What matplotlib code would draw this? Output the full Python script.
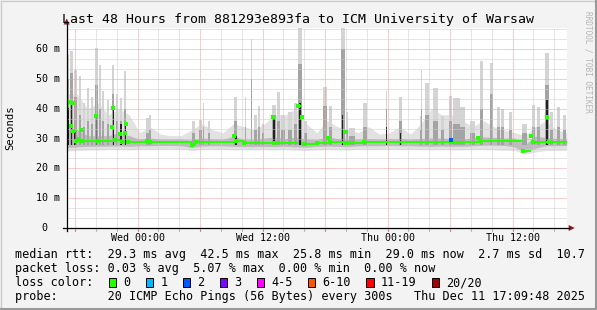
import matplotlib
matplotlib.use('Agg')
import matplotlib.pyplot as plt
from matplotlib.patches import Rectangle, Polygon

plt.rcParams['font.family'] = 'DejaVu Sans Mono'

W, H, DPI = 597, 310, 100

title = 'Last 48 Hours from 881293e893fa to ICM University of Warsaw'

# x axis is hours since window start (Tue ~17:12)
tick_hours = [6.8, 18.8, 30.8, 42.8]
tick_labels = ['Wed 00:00', 'Wed 12:00', 'Thu 00:00', 'Thu 12:00']
y_ticks = [10, 20, 30, 40, 50, 60]
y_labels = ['10 m', '20 m', '30 m', '40 m', '50 m', '60 m']

# hourly smoke envelope (ms)
hours = list(range(49))
smoke_lo = [25.8, 26.0, 26.2, 26.2, 26.3, 26.3, 26.2, 26.4, 26.4, 26.5, 26.5, 26.4, 26.0,
            26.3, 26.4, 26.4, 26.2, 26.3, 26.2, 26.3, 26.2, 26.3, 26.1, 26.0, 26.2, 26.3,
            26.2, 26.2, 26.4, 26.4, 26.4, 26.5, 26.4, 26.4, 26.3, 26.2, 26.3, 26.2, 26.2,
            26.3, 26.3, 26.2, 26.1, 26.0, 24.8, 25.5, 26.0, 26.0, 26.1]
smoke_hi = [45, 45, 40, 42, 38, 40, 38, 32, 34, 31.5, 31, 31, 33, 35, 33, 32, 35, 34, 33,
            35, 38, 38, 40, 35, 32, 36, 34, 33, 32, 34, 31.5, 32, 34, 31.5, 35, 40, 38, 38,
            36, 34, 36, 34, 33, 32, 31, 34, 36, 33, 32]
dark_lo = [27.0, 27.2, 27.4, 27.4, 27.5, 27.5, 27.4, 27.6, 27.6, 27.7, 27.7, 27.6, 27.0,
           27.5, 27.6, 27.6, 27.4, 27.3, 27.3, 27.4, 27.3, 27.4, 27.2, 27.1, 27.4, 27.5,
           27.4, 27.3, 27.6, 27.6, 27.6, 27.7, 27.6, 27.6, 27.5, 27.4, 27.5, 27.4, 27.4,
           27.6, 27.8, 27.8, 27.7, 27.2, 25.2, 26.8, 27.6, 27.6, 27.7]
dark_hi = [34, 33, 31, 31, 31, 32, 31, 29.8, 30.2, 29.8, 29.8, 29.8, 29.5, 30.2, 29.9,
           29.8, 30.8, 29.8, 29.6, 30.2, 30.5, 30.0, 30.5, 29.8, 29.6, 30.6, 30.0, 29.8,
           29.8, 30.0, 29.8, 29.9, 30.0, 29.8, 30.0, 30.2, 30.2, 30.0, 29.8, 30.2, 30.6,
           30.4, 30.2, 30.2, 28.0, 30.8, 30.4, 30.0, 29.8]

# single spikes: centre (h), width (h), light top, grey top, black top (ms)
spike_t = [0.12, 0.46, 0.80, 1.28, 1.66, 2.05, 2.43, 2.86, 3.20, 3.48, 3.96, 4.49, 4.83,
           5.21, 5.64, 7.71, 8.00, 12.15, 12.80, 13.13, 13.66, 16.25, 17.21, 17.74, 18.08,
           18.46, 18.89, 19.90, 20.29, 20.77, 21.48, 21.92, 22.40, 22.88, 24.84, 25.28,
           26.48, 26.87, 27.40, 28.68, 30.70, 32.04, 34.00, 34.08, 34.60, 35.36, 36.03,
           36.84, 37.42, 38.00, 38.96, 39.82, 40.78, 41.45, 41.88, 42.65, 43.95, 44.81,
           45.29, 46.10, 46.54, 47.21, 47.83]
spike_w = [0.29, 0.29, 0.29, 0.19, 0.19, 0.19, 0.19, 0.29, 0.19, 0.19, 0.19, 0.19, 0.19,
           0.19, 0.19, 0.29, 0.19, 0.29, 0.29, 0.10, 0.19, 0.29, 0.10, 0.14, 0.29, 0.19,
           0.19, 0.29, 0.29, 0.38, 0.38, 0.29, 0.38, 0.29, 0.38, 0.29, 0.38, 0.19, 0.58,
           0.38, 0.19, 0.29, 0.19, 0.10, 0.38, 0.48, 0.29, 0.29, 0.58, 0.48, 0.48, 0.29,
           0.29, 0.29, 0.29, 0.29, 0.48, 0.29, 0.29, 0.38, 0.29, 0.29, 0.29]
spike_top = [58, 59.5, 53, 51, 42, 47, 44, 60.3, 54.7, 46, 43, 54.7, 45, 43.6, 52.8, 37,
             38, 36, 36.2, 42, 36, 44, 44, 63.3, 38, 41, 35, 41.3, 45.7, 38, 39, 42, 67.3,
             36, 47.4, 41, 67.3, 39, 33.5, 42, 46, 44, 37.7, 53, 48.8, 47, 37.7, 44.3,
             43.7, 40.7, 36, 56, 55.5, 40.7, 40, 39, 35, 41.3, 40.7, 58.6, 39, 40.7, 38]
spike_mid = [50, 52, 44, 38, 34, 36, 35, 48, 40, 36, 35, 45, 36, 36, 40, 32, 33, 32, 33,
             34, 32, 36, 34, 50, 33, 34, 32, 38, 36, 33, 33, 35, 55, 32, 41, 34, 60, 33,
             31, 34, 40, 36, 33, 40, 38, 36, 33, 36, 35, 34, 32, 40, 45, 34, 34, 33, 32,
             34, 34, 48, 33, 34, 33]
spike_black = [42, 42, 33, 0, 0, 0, 0, 38, 0, 0, 0, 40.5, 0, 35, 35, 0, 0, 0, 0, 0, 0, 31,
               0, 0, 0, 0, 0, 37, 0, 0, 0, 0, 42, 0, 0, 0, 38, 0, 0, 0, 34, 32, 0, 0, 0,
               0, 0, 0, 0, 0, 0, 0, 0, 0, 0, 0, 0, 0, 0, 43, 0, 0, 0]

# median rtt, step series (h, ms)
med_t = [0, 0.2, 0.38, 0.56, 0.64, 0.9, 1.2, 1.34, 1.47, 2.81, 2.96, 4.35, 4.49, 4.64,
         5.12, 5.3, 5.6, 5.74, 5.88, 7.7, 8.0, 12.0, 12.4, 16.07, 16.25, 17.0, 19.83,
         20.0, 22.2, 22.6, 22.8, 24.0, 25.1, 25.3, 26.7, 26.9, 28.5, 36.9, 37.0, 39.5,
         39.7, 43.8, 44.6, 44.8, 46.1, 46.3, 48.0]
med_v = [41.0, 42.3, 34.3, 41.8, 32.5, 29.2, 29.8, 32.9, 29.3, 37.6, 29.3, 34.0, 40.4,
         29.4, 31.5, 29.0, 32.0, 35.0, 28.9, 29.2, 28.9, 27.8, 29.0, 30.9, 29.3, 28.4,
         37.1, 28.6, 41.0, 37.1, 28.2, 28.6, 30.1, 28.8, 32.3, 28.5, 28.9, 29.4, 28.7,
         30.1, 29.3, 25.8, 30.9, 29.0, 37.3, 29.0, 29.0]
loss_t = [36.9]
loss_v = [29.4]

loss_labels = ['0', '1', '2', '3', '4-5', '6-10', '11-19', '20/20']
loss_colors = ['#26ff00', '#00b8ff', '#0059ff', '#7e00ff', '#ff00ff', '#ff5500',
               '#ff0000', '#a10000']

legend_lines = [
    'median rtt:  29.3 ms avg  42.5 ms max  25.8 ms min  29.0 ms now  2.7 ms sd  10.7',
    'packet loss: 0.03 % avg  5.07 % max  0.00 % min  0.00 % now',
    'loss color:',
    'probe:       20 ICMP Echo Pings (56 Bytes) every 300s   Thu Dec 11 17:09:48 2025',
]

# plot area in pixels
X0, X1, YB, YT = 66.7, 566.7, 228.0, 27.5
YMAX = (YB - YT) / 2.98

fig = plt.figure(figsize=(W / DPI, H / DPI), dpi=DPI, facecolor='#f3f3f3')
bg = fig.add_axes([0, 0, 1, 1])
bg.set_xlim(0, W)
bg.set_ylim(H, 0)
bg.axis('off')

ax = fig.add_axes([X0 / W, 1 - YB / H, (X1 - X0) / W, (YB - YT) / H])
ax.set_xlim(0, 48)
ax.set_ylim(0, YMAX)
ax.set_facecolor('white')
for s in ax.spines.values():
    s.set_visible(False)
ax.set_xticks([])
ax.set_yticks([])

# smoke
ax.fill_between(hours, smoke_lo, smoke_hi, color='#e2e2e2', lw=0, zorder=1)
ax.fill_between(hours, dark_lo, dark_hi, color='#bcbcbc', lw=0, zorder=2)
ax.bar(spike_t, [t - 28 for t in spike_top], bottom=28, width=spike_w,
       color='#d4d4d4', lw=0, zorder=1.5)
ax.bar(spike_t, [m - 28 for m in spike_mid], bottom=28, width=spike_w,
       color='#a4a4a4', lw=0, zorder=2.5)
bt = [t for t, b in zip(spike_t, spike_black) if b > 0]
bb = [b for b in spike_black if b > 0]
ax.bar(bt, [b - 28 for b in bb], bottom=28, width=0.15, color='#222222', lw=0, zorder=3)

# grid (dotted, 1px)
h = 0.8
while h < 48:
    major = abs(((h - 6.8) / 6) - round((h - 6.8) / 6)) < 1e-6
    ax.axvline(h, color='#f09c9c' if major else '#cdcdcd', lw=0.72, ls=(0, (1, 1)),
               zorder=4)
    h += 2
k = 1
while k * 10 / 3 < YMAX:
    v = k * 10 / 3
    ax.axhline(v, color='#f09c9c' if k % 3 == 0 else '#cdcdcd', lw=0.72, ls=(0, (1, 1)),
               zorder=4)
    k += 1

# median: horizontal segments only, plus sample dots
ax.hlines(med_v[:-1], med_t[:-1], med_t[1:], color='#26ff00', lw=1.4, zorder=5)
ax.plot(med_t[:-1], med_v[:-1], 's', color='#26ff00', ms=2.2, mew=0, zorder=5)
ax.plot(loss_t, loss_v, 's', color='#0059ff', ms=2.5, mew=0, zorder=6)

# overlay for axis lines, text, legend (pixel coords)
fg = fig.add_axes([0, 0, 1, 1])
fg.set_xlim(0, W)
fg.set_ylim(H, 0)
fg.axis('off')
fg.patch.set_alpha(0)

def hx(hr):
    return X0 + hr * (X1 - X0) / 48

def vy(ms):
    return YB - ms * 2.98

# x ticks below axis
h = 0.8
while h < 48:
    major = abs(((h - 6.8) / 6) - round((h - 6.8) / 6)) < 1e-6
    fg.plot([hx(h), hx(h)], [YB, YB + 3], color='#f08080' if major else '#b8b8b8', lw=0.8)
    h += 2
fg.plot([63, X1 + 2], [YB, YB], color='black', lw=0.9)
fg.plot([X0, X0], [YB + 3, YT - 4], color='black', lw=0.9)
fg.add_patch(Polygon([[X1 + 2, YB - 3], [X1 + 8, YB], [X1 + 2, YB + 3]], closed=True,
                     color='#8b1a1a', lw=0))
fg.add_patch(Polygon([[X0 - 3, YT - 3], [X0, YT - 9], [X0 + 3, YT - 3]], closed=True,
                     color='#8b1a1a', lw=0))

for th, tl in zip(tick_hours, tick_labels):
    fg.text(hx(th), 238, tl, ha='center', va='center', fontsize=7.2)
for yv, yl in zip(y_ticks, y_labels):
    fg.text(59.5, vy(yv), yl, ha='right', va='center', fontsize=7.2)
fg.text(47.5, vy(0), '0', ha='right', va='center', fontsize=7.2)

fg.text(W / 2, 19, title, ha='center', va='center', fontsize=9.5)
fg.text(10, 127.5, 'Seconds', rotation=90, ha='center', va='center', fontsize=7.6)
fg.text(588, 62, 'RRDTOOL / TOBI OETIKER', rotation=270, ha='center', va='center',
        fontsize=5.6, color='#b4b4b4')

for i, line in enumerate(legend_lines):
    fg.text(15, 254.5 + i * 14, line, ha='left', va='center', fontsize=8.5)

sx = 108.7
for lab, col in zip(loss_labels, loss_colors):
    fg.add_patch(Rectangle((sx, 278), 7.5, 8.5, facecolor=col, edgecolor='black', lw=0.7))
    fg.text(sx + 14.6, 282.5, lab, ha='left', va='center', fontsize=8.5)
    sx += 37 + 7.1 * (len(lab) - 1)

# frame shading
fg.plot([0.5, W - 0.5], [0.5, 0.5], color='#cbcbcb', lw=1)
fg.plot([0.5, 0.5], [0.5, H - 0.5], color='#cbcbcb', lw=1)
fg.plot([W - 1, W - 1], [0, H], color='#999999', lw=1.5)
fg.plot([0, W], [H - 1, H - 1], color='#999999', lw=1.5)

fig.savefig('out.png', dpi=DPI, facecolor=fig.get_facecolor())
